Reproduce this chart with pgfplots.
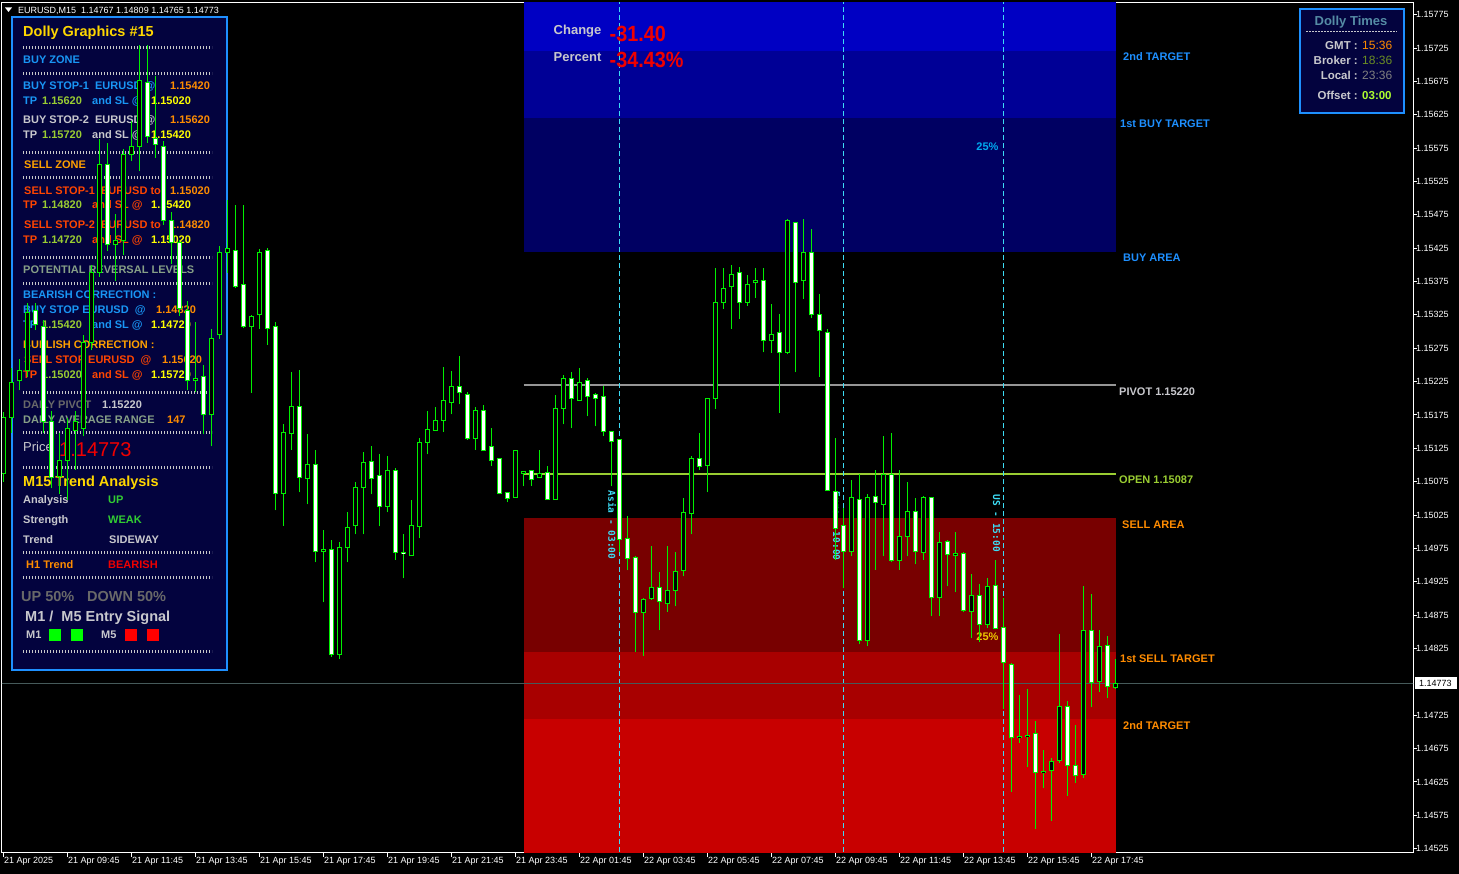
\documentclass[border=0pt]{standalone}
\usepackage{pgfplots}
\pgfplotsset{compat=1.18}
\usepackage{pgfplotstable}
\usepackage{fontspec}
\setmainfont{Liberation Sans}
\newfontfamily\sessfont{DejaVu Sans Mono}

\definecolor{mtgreen}{RGB}{0,240,0}
\definecolor{panelbg}{RGB}{3,3,62}
\definecolor{dodger}{RGB}{30,144,255}
\definecolor{zblue}{RGB}{25,150,245}
\definecolor{lgray}{RGB}{200,200,205}
\definecolor{dgray}{RGB}{105,105,105}
\definecolor{seagray}{RGB}{135,160,135}
\definecolor{gold}{RGB}{255,215,0}
\definecolor{orng}{RGB}{255,140,0}
\definecolor{sellorange}{RGB}{255,160,0}
\definecolor{ored}{RGB}{255,69,0}
\definecolor{ygreen}{RGB}{154,205,50}
\definecolor{yel}{RGB}{255,255,0}
\definecolor{limeg}{RGB}{50,205,50}
\definecolor{mtred}{RGB}{240,0,0}
\definecolor{sesscyan}{RGB}{60,220,245}
\definecolor{zb1}{RGB}{0,0,98}
\definecolor{zb2}{RGB}{0,0,150}
\definecolor{zb3}{RGB}{0,0,195}
\definecolor{zr1}{RGB}{120,0,0}
\definecolor{zr2}{RGB}{168,0,0}
\definecolor{zr3}{RGB}{200,0,0}
\definecolor{pivotgray}{RGB}{150,150,150}
\definecolor{priceline}{RGB}{70,90,90}
\definecolor{cadet}{RGB}{85,140,165}
\definecolor{olive2}{RGB}{107,142,35}
\definecolor{gyellow}{RGB}{173,255,47}
\definecolor{dotcol}{RGB}{200,200,200}

% bold / regular text, y is the visual centre of the capitals
\newcommand\tb[5]{\node[anchor=base west,inner sep=0pt,yshift=-0.36*#4pt,text=#3,font=\bfseries\fontsize{#4}{#4}\selectfont] at (#1,#2) {#5};}
\newcommand\tr[5]{\node[anchor=base west,inner sep=0pt,yshift=-0.36*#4pt,text=#3,font=\fontsize{#4}{#4}\selectfont] at (#1,#2) {#5};}
\newcommand\sep[1]{\draw[dotcol,line width=3pt,dash pattern=on 1pt off 2pt] (23,#1) -- (212,#1);}

% EURUSD M15, bar index 0 = 21 Apr 07:45
\pgfplotstableread{
x o h l c
0 1.15087 1.15179 1.15075 1.15171
1 1.15171 1.15245 1.15148 1.15224
2 1.15226 1.15259 1.15212 1.15242
3 1.15242 1.15343 1.15232 1.15329
7 1.15083 1.15148 1.15057 1.15107
8 1.15107 1.15171 1.15048 1.15155
9 1.15152 1.15181 1.15093 1.15165
10 1.15155 1.15295 1.15143 1.15284
11 1.15283 1.15400 1.15272 1.15388
12 1.15389 1.15589 1.15382 1.15551
14 1.15430 1.15476 1.15376 1.15436
15 1.15436 1.15574 1.15415 1.15565
16 1.15565 1.15616 1.15556 1.15578
17 1.15578 1.15730 1.15541 1.15677
24 1.15226 1.15314 1.15209 1.15229
26 1.15175 1.15304 1.15128 1.15290
27 1.15296 1.15428 1.15289 1.15419
28 1.15419 1.15497 1.15388 1.15424
31 1.15307 1.15325 1.15208 1.15323
32 1.15325 1.15424 1.15304 1.15419
35 1.15057 1.15161 1.15009 1.15148
36 1.15147 1.15239 1.15123 1.15187
38 1.15080 1.15147 1.15041 1.15101
40 1.14970 1.15002 1.14894 1.14973
42 1.14816 1.14985 1.14810 1.14976
43 1.14976 1.15030 1.14954 1.15006
44 1.15009 1.15074 1.14996 1.15066
45 1.15066 1.15119 1.14996 1.15104
48 1.15038 1.15114 1.15029 1.15092
51 1.14964 1.15048 1.14964 1.15009
52 1.15008 1.15141 1.14990 1.15134
53 1.15134 1.15181 1.15116 1.15153
54 1.15152 1.15187 1.15152 1.15167
55 1.15167 1.15247 1.15150 1.15196
56 1.15193 1.15241 1.15176 1.15217
59 1.15140 1.15187 1.15123 1.15182
64 1.15051 1.15122 1.15051 1.15122
65 1.15087 1.15090 1.15068 1.15090
67 1.15081 1.15122 1.15080 1.15087
69 1.15048 1.15205 1.15048 1.15184
70 1.15185 1.15235 1.15161 1.15229
72 1.15197 1.15245 1.15197 1.15224
80 1.14879 1.14901 1.14814 1.14898
81 1.14900 1.14978 1.14898 1.14916
83 1.14892 1.14979 1.14880 1.14912
84 1.14912 1.14969 1.14888 1.14940
85 1.14942 1.15050 1.14933 1.15029
86 1.15027 1.15113 1.14996 1.15110
88 1.15099 1.15200 1.15059 1.15200
89 1.15199 1.15395 1.15184 1.15344
90 1.15343 1.15395 1.15334 1.15364
91 1.15367 1.15400 1.15304 1.15386
93 1.15344 1.15385 1.15338 1.15371
94 1.15373 1.15395 1.15350 1.15377
96 1.15287 1.15341 1.15268 1.15296
98 1.15269 1.15469 1.15266 1.15466
100 1.15376 1.15469 1.15349 1.15418
106 1.14970 1.15078 1.14963 1.15051
108 1.14837 1.15057 1.14828 1.15051
110 1.15041 1.15143 1.14963 1.15086
112 1.14957 1.15092 1.14943 1.14993
113 1.14993 1.15074 1.14963 1.15030
115 1.14969 1.15054 1.14958 1.15051
117 1.14901 1.15000 1.14874 1.14984
119 1.14964 1.15000 1.14909 1.14967
121 1.14880 1.14937 1.14840 1.14904
123 1.14861 1.14931 1.14855 1.14918
127 1.14691 1.14756 1.14684 1.14693
128 1.14693 1.14765 1.14648 1.14695
130 1.14639 1.14673 1.14616 1.14641
131 1.14642 1.14661 1.14567 1.14655
132 1.14657 1.14846 1.14654 1.14738
135 1.14636 1.14918 1.14631 1.14852
137 1.14775 1.14852 1.14760 1.14828
139 1.14767 1.14809 1.14765 1.14773
}\bull

\pgfplotstableread{
x o h l c
4 1.15331 1.15343 1.15302 1.15310
5 1.15308 1.15317 1.15148 1.15165
6 1.15165 1.15181 1.15065 1.15081
13 1.15551 1.15583 1.15421 1.15430
18 1.15674 1.15730 1.15583 1.15593
19 1.15590 1.15683 1.15560 1.15581
20 1.15578 1.15586 1.15460 1.15467
21 1.15467 1.15479 1.15401 1.15433
22 1.15433 1.15437 1.15323 1.15335
23 1.15332 1.15346 1.15212 1.15226
25 1.15233 1.15250 1.15146 1.15175
29 1.15422 1.15490 1.15365 1.15368
30 1.15371 1.15490 1.15305 1.15307
33 1.15421 1.15425 1.15280 1.15305
34 1.15307 1.15314 1.15032 1.15057
37 1.15187 1.15242 1.15059 1.15081
39 1.15101 1.15123 1.14954 1.14970
41 1.14973 1.14988 1.14813 1.14816
46 1.15105 1.15129 1.15056 1.15080
47 1.15084 1.15116 1.15008 1.15038
49 1.15092 1.15095 1.14958 1.14969
50 1.14969 1.14996 1.14930 1.14967
57 1.15217 1.15263 1.15191 1.15208
58 1.15206 1.15209 1.15138 1.15140
60 1.15181 1.15190 1.15122 1.15122
61 1.15128 1.15155 1.15099 1.15107
62 1.15110 1.15110 1.15056 1.15057
63 1.15059 1.15060 1.15044 1.15050
66 1.15092 1.15092 1.15069 1.15078
68 1.15089 1.15098 1.15048 1.15048
71 1.15229 1.15239 1.15155 1.15199
73 1.15226 1.15230 1.15173 1.15203
74 1.15205 1.15208 1.15158 1.15200
75 1.15202 1.15218 1.15144 1.15150
76 1.15150 1.15150 1.15068 1.15135
77 1.15138 1.15138 1.14969 1.14988
78 1.14990 1.15023 1.14942 1.14960
79 1.14961 1.14964 1.14820 1.14879
82 1.14916 1.14940 1.14852 1.14895
87 1.15110 1.15148 1.15093 1.15098
92 1.15388 1.15397 1.15319 1.15344
95 1.15376 1.15395 1.15269 1.15287
97 1.15298 1.15326 1.15178 1.15269
99 1.15463 1.15464 1.15239 1.15374
101 1.15419 1.15454 1.15320 1.15325
102 1.15325 1.15356 1.15232 1.15301
103 1.15299 1.15304 1.15062 1.15062
104 1.15060 1.15141 1.14957 1.15005
105 1.15009 1.15036 1.14915 1.14970
107 1.15048 1.15087 1.14831 1.14837
109 1.15053 1.15092 1.14943 1.15044
111 1.15086 1.15148 1.14954 1.14957
114 1.15030 1.15051 1.14951 1.14970
116 1.15051 1.15051 1.14873 1.14901
118 1.14985 1.14988 1.14918 1.14966
120 1.14967 1.14970 1.14879 1.14882
122 1.14904 1.14921 1.14834 1.14861
124 1.14919 1.14958 1.14855 1.14855
125 1.14856 1.14900 1.14735 1.14804
126 1.14801 1.14804 1.14610 1.14691
129 1.14697 1.14717 1.14555 1.14639
133 1.14738 1.14747 1.14604 1.14649
134 1.14649 1.14711 1.14624 1.14634
136 1.14852 1.14907 1.14738 1.14774
138 1.14829 1.14843 1.14751 1.14768
}\bear

\pgfplotsset{
  wick/.style={draw=none, mark=none, forget plot,
    error bars/.cd, y dir=plus, y explicit, error mark=none,
    error bar style={draw=mtgreen, line width=1pt}},
  body/.style={draw=none, mark=none, forget plot,
    error bars/.cd, y dir=plus, y explicit, error mark=none,
    error bar style={#1}},
}

\begin{document}
\begin{tikzpicture}
\path[fill=black, use as bounding box] (0pt,0pt) rectangle (1459pt,874pt);

% left info panel (drawn first: candles lie over it)
\begin{scope}[x=1pt, y=-1pt, shift={(0pt,874pt)}]
\filldraw[fill=panelbg, draw=dodger, line width=2pt] (12,17.5) rectangle (226.5,670);
\tb{23}{31.5}{gold}{14.5}{Dolly Graphics \#15}
\sep{47.5}
\tb{23}{60}{zblue}{11}{BUY ZONE}
\sep{73.5}
\tb{23}{85.5}{zblue}{11}{BUY STOP-1\ \ EURUSD @}
\tb{170}{85.5}{orng}{11}{1.15420}
\tb{23}{100.5}{zblue}{11}{TP}
\tb{42}{100.5}{ygreen}{11}{1.15620}
\tb{92}{100.5}{zblue}{11}{and SL @}
\tb{151}{100.5}{yel}{11}{1.15020}
\tb{23}{120}{lgray}{11}{BUY STOP-2\ \ EURUSD @}
\tb{170}{120}{orng}{11}{1.15620}
\tb{23}{135}{lgray}{11}{TP}
\tb{42}{135}{ygreen}{11}{1.15720}
\tb{92}{135}{lgray}{11}{and SL @}
\tb{151}{135}{yel}{11}{1.15420}
\sep{153}
\tb{24}{165}{sellorange}{11}{SELL ZONE}
\sep{178}
\tb{24}{190.5}{ored}{11}{SELL STOP-1\ \ EURUSD to}
\tb{170}{190.5}{orng}{11}{1.15020}
\tb{23}{205}{ored}{11}{TP}
\tb{42}{205}{ygreen}{11}{1.14820}
\tb{92}{205}{ored}{11}{and SL @}
\tb{151}{205}{yel}{11}{1.15420}
\tb{24}{225}{ored}{11}{SELL STOP-2\ \ EURUSD to}
\tb{170}{225}{orng}{11}{1.14820}
\tb{23}{240}{ored}{11}{TP}
\tb{42}{240}{ygreen}{11}{1.14720}
\tb{92}{240}{ored}{11}{and SL @}
\tb{151}{240}{yel}{11}{1.15020}
\sep{257.5}
\tb{23}{270}{seagray}{11}{POTENTIAL REVERSAL LEVELS}
\sep{283.5}
\tb{23}{295}{zblue}{11}{BEARISH CORRECTION :}
\tb{23}{310}{zblue}{11}{BUY STOP EURUSD\ \ @}
\tb{156}{310}{orng}{11}{1.14820}
\tb{23}{325}{zblue}{11}{TP}
\tb{42}{325}{ygreen}{11}{1.15420}
\tb{92}{325}{zblue}{11}{and SL @}
\tb{151}{325}{yel}{11}{1.14720}
\tb{23}{345}{sellorange}{11}{BULLISH CORRECTION :}
\tb{24}{360}{ored}{11}{SELL STOP EURUSD\ \ @}
\tb{162}{360}{orng}{11}{1.15620}
\tb{23}{375}{ored}{11}{TP}
\tb{42}{375}{ygreen}{11}{1.15020}
\tb{92}{375}{ored}{11}{and SL @}
\tb{151}{375}{yel}{11}{1.15720}
\sep{393}
\tb{23}{405}{dgray}{11}{DAILY PIVOT}
\tb{102}{405}{lgray}{11}{1.15220}
\tb{23}{420}{seagray}{11}{DAILY AVERAGE RANGE}
\tb{167}{420}{orng}{11}{147}
\sep{433}
\tr{23}{446.5}{lgray}{13}{Price}
\tr{59}{449.5}{mtred}{20}{1.14773}
\sep{468}
\tb{23}{481}{gold}{14.5}{M15 Trend Analysis}
\tb{23}{500}{lgray}{11}{Analysis}
\tb{108}{500}{limeg}{11}{UP}
\tb{23}{520}{lgray}{11}{Strength}
\tb{108}{520}{limeg}{11}{WEAK}
\tb{23}{540}{lgray}{11}{Trend}
\tb{109}{540}{lgray}{11}{SIDEWAY}
\sep{553}
\tb{26}{565}{orng}{11}{H1 Trend}
\tb{108}{565}{mtred}{11}{BEARISH}
\sep{578}
\tb{21}{596}{dgray}{14.5}{UP 50\%}
\tb{87}{596}{dgray}{14.5}{DOWN 50\%}
\tb{25}{616}{lgray}{14.5}{M1 /\ \ M5 Entry Signal}
\tb{26}{635}{lgray}{11}{M1}
\fill[green] (49,629) rectangle (61,641);
\fill[green] (71,629) rectangle (83,641);
\tb{101}{635}{lgray}{11}{M5}
\fill[red] (125,629) rectangle (137,641);
\fill[red] (147,629) rectangle (159,641);
\sep{652}
\end{scope}

\begin{axis}[
  at={(2pt,21pt)}, anchor=south west,
  width=1411pt, height=850pt, scale only axis,
  xmin=-0.1875, xmax=176.1875,
  ymin=1.145185, ymax=1.157925,
  clip mode=individual,
  axis line style={draw=white, line width=1pt},
  tick style={draw=white, line width=1pt},
  tick align=outside, major tick length=4pt,
  xtick pos=left, ytick pos=right, yticklabel pos=right,
  xtick={0,8,...,136},
  xticklabels={21 Apr 2025, 21 Apr 09:45, 21 Apr 11:45, 21 Apr 13:45, 21 Apr 15:45,
    21 Apr 17:45, 21 Apr 19:45, 21 Apr 21:45, 21 Apr 23:45, 22 Apr 01:45, 22 Apr 03:45,
    22 Apr 05:45, 22 Apr 07:45, 22 Apr 09:45, 22 Apr 11:45, 22 Apr 13:45, 22 Apr 15:45,
    22 Apr 17:45},
  x tick label style={anchor=north west, inner sep=0pt, text=white,
    font=\fontsize{9}{9}\selectfont, xshift=0.5pt},
  ytick={1.14525,1.14575,1.14625,1.14675,1.14725,1.14825,1.14875,1.14925,
    1.14975,1.15025,1.15075,1.15125,1.15175,1.15225,1.15275,1.15325,1.15375,1.15425,
    1.15475,1.15525,1.15575,1.15625,1.15675,1.15725,1.15775},
  scaled y ticks=false,
  yticklabel={\pgfmathprintnumber[fixed,fixed zerofill,precision=5,assume math mode=true]{\tick}},
  y tick label style={anchor=west, inner sep=0pt, text=white,
    font=\fontsize{9}{9}\selectfont, xshift=-1pt},
]
% zones
\addplot[fill=zb3, draw=none, forget plot] coordinates {(65,1.15720) (139,1.15720) (139,1.15820) (65,1.15820)} -- cycle;
\addplot[fill=zb2, draw=none, forget plot] coordinates {(65,1.15620) (139,1.15620) (139,1.15720) (65,1.15720)} -- cycle;
\addplot[fill=zb1, draw=none, forget plot] coordinates {(65,1.15420) (139,1.15420) (139,1.15620) (65,1.15620)} -- cycle;
\addplot[fill=zr1, draw=none, forget plot] coordinates {(65,1.14820) (139,1.14820) (139,1.15020) (65,1.15020)} -- cycle;
\addplot[fill=zr2, draw=none, forget plot] coordinates {(65,1.14720) (139,1.14720) (139,1.14820) (65,1.14820)} -- cycle;
\addplot[fill=zr3, draw=none, forget plot] coordinates {(65,1.14420) (139,1.14420) (139,1.14720) (65,1.14720)} -- cycle;
% pivot and day open
\addplot[pivotgray, line width=2pt, forget plot] coordinates {(65,1.15220) (139,1.15220)};
\addplot[ygreen, line width=2pt, forget plot] coordinates {(65,1.15087) (139,1.15087)};
% sessions
\addplot[sesscyan, line width=1pt, dash pattern=on 5pt off 3pt, forget plot] coordinates {(77,1.144) (77,1.159)};
\addplot[sesscyan, line width=1pt, dash pattern=on 5pt off 3pt, forget plot] coordinates {(105,1.144) (105,1.159)};
\addplot[sesscyan, line width=1pt, dash pattern=on 5pt off 3pt, forget plot] coordinates {(125,1.144) (125,1.159)};
% bid line
\addplot[priceline, line width=1pt, forget plot] coordinates {(-1,1.14773) (180,1.14773)};

\node[anchor=base west, inner sep=0pt, yshift=-4.7pt, text=lgray, font=\bfseries\fontsize{13}{13}\selectfont] at (axis cs:68.75,1.15752) {Change};
\node[anchor=base west, inner sep=0pt, yshift=-4.7pt, text=lgray, font=\bfseries\fontsize{13}{13}\selectfont] at (axis cs:68.75,1.15712) {Percent};
\node[anchor=base west, inner sep=0pt, yshift=-7.9pt, xscale=0.9, text=mtred, font=\bfseries\fontsize{22}{22}\selectfont] at (axis cs:75.75,1.15747) {-31.40};
\node[anchor=base west, inner sep=0pt, yshift=-7.9pt, xscale=0.9, text=mtred, font=\bfseries\fontsize{22}{22}\selectfont] at (axis cs:75.75,1.15707) {-34.43\%};
\node[anchor=base east, inner sep=0pt, yshift=-4pt, text={rgb,255:red,0;green,170;blue,240}, font=\bfseries\fontsize{11}{11}\selectfont] at (axis cs:124.4,1.15577) {25\%};
\node[anchor=base east, inner sep=0pt, yshift=-4pt, text={rgb,255:red,235;green,200;blue,0}, font=\bfseries\fontsize{11}{11}\selectfont] at (axis cs:124.4,1.14843) {25\%};
\node[rotate=-90, anchor=north west, inner sep=0pt, text=sesscyan, font=\sessfont\bfseries\fontsize{9.5}{9.5}\selectfont] at (axis cs:76.6,1.15062) {Asia - 03:00};
\node[rotate=-90, anchor=north west, inner sep=0pt, text=sesscyan, font=\sessfont\bfseries\fontsize{9.5}{9.5}\selectfont] at (axis cs:104.6,1.15060) {Euro - 10:00};
\node[rotate=-90, anchor=north west, inner sep=0pt, text=sesscyan, font=\sessfont\bfseries\fontsize{9.5}{9.5}\selectfont] at (axis cs:124.6,1.15056) {US - 15:00};

% candles: wicks
\addplot[wick] table[x=x, y=l, y error expr=\thisrow{h}-\thisrow{l}] {\bull};
\addplot[wick] table[x=x, y=l, y error expr=\thisrow{h}-\thisrow{l}] {\bear};
% bodies: green outline
\addplot[body={draw=mtgreen, line width=5pt, shorten <=-0.5pt, shorten >=-0.5pt}]
  table[x=x, y=o, y error expr=\thisrow{c}-\thisrow{o}] {\bull};
\addplot[body={draw=mtgreen, line width=5pt, shorten <=-0.5pt, shorten >=-0.5pt}]
  table[x=x, y=c, y error expr=\thisrow{o}-\thisrow{c}] {\bear};
% bodies: fill
\addplot[body={draw=black, line width=3pt, shorten <=0.5pt, shorten >=0.5pt}]
  table[x=x, y=o, y error expr=\thisrow{c}-\thisrow{o}] {\bull};
\addplot[body={draw=white, line width=3pt, shorten <=0.5pt, shorten >=0.5pt}]
  table[x=x, y=c, y error expr=\thisrow{o}-\thisrow{c}] {\bear};
\end{axis}

\begin{scope}[x=1pt, y=-1pt, shift={(0pt,874pt)}]
% header
\fill[white] (5,7.5) -- (12,7.5) -- (8.5,12) -- cycle;
\tr{18}{10}{white}{9}{EURUSD,M15\ \ 1.14767 1.14809 1.14765 1.14773}
% zone labels
\tb{1123}{57}{dodger}{11}{2nd TARGET}
\tb{1120}{124}{dodger}{11}{1st BUY TARGET}
\tb{1123}{258}{dodger}{11}{BUY AREA}
\tb{1119}{392}{lgray}{11}{PIVOT 1.15220}
\tb{1119}{480}{ygreen}{11}{OPEN 1.15087}
\tb{1122}{525}{orng}{11}{SELL AREA}
\tb{1120}{659}{orng}{11}{1st SELL TARGET}
\tb{1123}{726}{orng}{11}{2nd TARGET}
% times panel
\filldraw[fill=panelbg, draw=dodger, line width=2pt] (1299.5,9.5) rectangle (1403.5,113.5);
\node[anchor=base, inner sep=0pt, yshift=-4.7pt, text=cadet, font=\bfseries\fontsize{13}{13}\selectfont] at (1351,21) {Dolly Times};
\draw[lgray, line width=0.8pt, dash pattern=on 2pt off 1pt] (1306,31) -- (1397,31);
\node[anchor=base east, inner sep=0pt, yshift=-4.2pt, text=lgray, font=\bfseries\fontsize{11.5}{11.5}\selectfont] at (1358,45.5) {GMT :};
\node[anchor=base east, inner sep=0pt, yshift=-4.2pt, text=lgray, font=\bfseries\fontsize{11.5}{11.5}\selectfont] at (1358,60.5) {Broker :};
\node[anchor=base east, inner sep=0pt, yshift=-4.2pt, text=lgray, font=\bfseries\fontsize{11.5}{11.5}\selectfont] at (1358,75.5) {Local :};
\node[anchor=base east, inner sep=0pt, yshift=-4.2pt, text=lgray, font=\bfseries\fontsize{11.5}{11.5}\selectfont] at (1358,95.5) {Offset :};
\tr{1362}{45.5}{orng}{12}{15:36}
\tr{1362}{60.5}{olive2}{12}{18:36}
\tr{1362}{75.5}{gray}{12}{23:36}
\tb{1362}{95.5}{gyellow}{11.5}{03:00}
% bid label
\fill[white] (1415,677.5) rectangle (1457,689.5);
\tr{1419}{683.5}{black}{9}{1.14773}
\end{scope}
\end{tikzpicture}
\end{document}
